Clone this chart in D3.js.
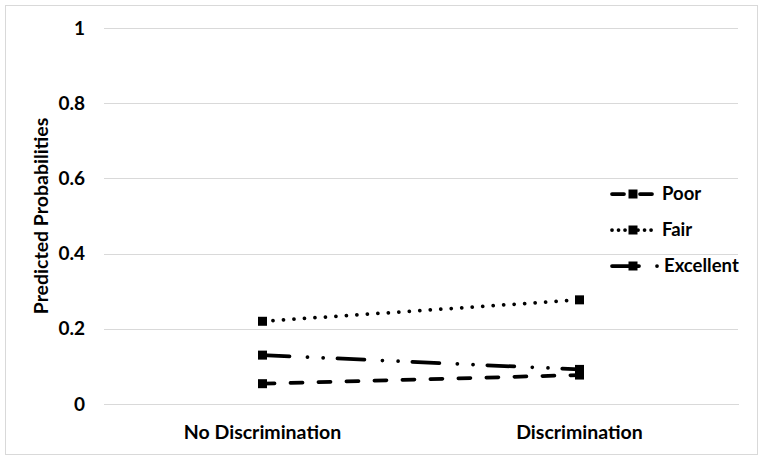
<!DOCTYPE html>
<html>
<head>
<meta charset="utf-8">
<script src="https://cdn.jsdelivr.net/npm/d3@7"></script>
<style>
  body { margin: 0; background: #fff; }
  svg { display: block; }
</style>
</head>
<body>
<div id="chart"></div>
<script>
// data
const categories = ["No Discrimination", "Discrimination"];
const seriesNames = ["Poor", "Fair", "Excellent"];
const poor = [0.054, 0.077];
const fair = [0.220, 0.277];
const excellent = [0.130, 0.092];
const yTicks = [0, 0.2, 0.4, 0.6, 0.8, 1];

const W = 763, H = 461;
const font = "Lato, 'Open Sans', sans-serif";

const svg = d3.select("#chart").append("svg")
  .attr("width", W)
  .attr("height", H);

svg.append("rect")
  .attr("width", W).attr("height", H)
  .attr("fill", "#fff");

// chart border
svg.append("rect")
  .attr("x", 5.5).attr("y", 5.5)
  .attr("width", 752).attr("height", 449)
  .attr("fill", "none")
  .attr("stroke", "#d9d9d9")
  .attr("stroke-width", 1);

const x = d3.scaleBand()
  .domain(categories)
  .range([104, 738]);

const y = d3.scaleLinear()
  .domain([0, 1])
  .range([404, 28]);

const cx = d => x(d) + x.bandwidth() / 2;

// y axis + gridlines
const yAxis = svg.append("g")
  .attr("transform", "translate(104,0)")
  .call(d3.axisLeft(y)
    .tickValues(yTicks)
    .tickFormat(d => d)
    .tickSize(-634)
    .tickPadding(19));
yAxis.select(".domain").remove();
yAxis.selectAll(".tick line")
  .attr("stroke", "#d9d9d9")
  .attr("shape-rendering", "crispEdges");
yAxis.selectAll(".tick text")
  .attr("font-family", font)
  .attr("font-weight", "bold")
  .attr("font-size", "19px")
  .attr("fill", "#000");

// x axis
const xAxis = svg.append("g")
  .attr("transform", "translate(0,404)")
  .call(d3.axisBottom(x).tickSize(0).tickPadding(21));
xAxis.select(".domain")
  .attr("stroke", "#d9d9d9")
  .attr("shape-rendering", "crispEdges");
xAxis.selectAll(".tick text")
  .attr("font-family", font)
  .attr("font-weight", "bold")
  .attr("font-size", "19.5px")
  .attr("fill", "#000");

// y axis title
svg.append("text")
  .attr("transform", "translate(48,216) rotate(-90)")
  .attr("text-anchor", "middle")
  .attr("font-family", font)
  .attr("font-weight", "bold")
  .attr("font-size", "19.5px")
  .attr("fill", "#000")
  .text("Predicted Probabilities");

const dashes = {
  Poor: "12 16",
  Fair: "0.01 10.5",
  Excellent: "27 18 0.01 15.7 0.01 14.3"
};
const values = { Poor: poor, Fair: fair, Excellent: excellent };

const line = d3.line()
  .x(d => cx(d.cat))
  .y(d => y(d.v));

seriesNames.forEach(name => {
  const pts = categories.map((c, i) => ({ cat: c, v: values[name][i] }));
  svg.append("path")
    .datum(pts)
    .attr("d", line)
    .attr("fill", "none")
    .attr("stroke", "#000")
    .attr("stroke-width", 3.75)
    .attr("stroke-linecap", "round")
    .attr("stroke-dasharray", dashes[name]);
  svg.selectAll(null)
    .data(pts)
    .enter().append("rect")
    .attr("x", d => cx(d.cat) - 4.5)
    .attr("y", d => y(d.v) - 4.5)
    .attr("width", 9)
    .attr("height", 9)
    .attr("fill", "#000");
});

// Legend
const legY = [194, 230, 266];
seriesNames.forEach((name, i) => {
  const g = svg.append("g").attr("transform", "translate(0," + legY[i] + ")");
  g.append("line")
    .attr("x1", 612).attr("x2", name === "Excellent" ? 658 : 653)
    .attr("y1", 0).attr("y2", 0)
    .attr("stroke", "#000")
    .attr("stroke-width", 3.75)
    .attr("stroke-linecap", "round")
    .attr("stroke-dasharray", name === "Fair" ? "0.01 6.5" : dashes[name]);
  g.append("rect")
    .attr("x", 628.5).attr("y", -4.5)
    .attr("width", 9).attr("height", 9)
    .attr("fill", "#000");
  g.append("text")
    .attr("x", name === "Excellent" ? 664 : 662)
    .attr("y", 0)
    .attr("dy", "0.35em")
    .attr("font-family", font)
    .attr("font-weight", "bold")
    .attr("font-size", "18.5px")
    .attr("fill", "#000")
    .text(name);
});
</script>
</body>
</html>
